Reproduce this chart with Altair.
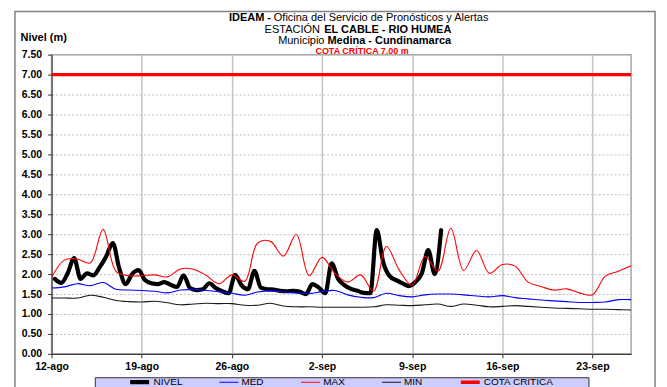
import altair as alt
import pandas as pd

# ---------------- data ----------------
series_names = ["NIVEL", "MED", "MAX", "MIN", "COTA CRITICA"]
series_colors = ["#000000", "#0000ff", "#ff0000", "#1a1a1a", "#ff0000"]
series_widths = [4.2, 1.1, 1.1, 1.1, 3.5]

x_tick_days = [(8, 12), (8, 19), (8, 26), (9, 2), (9, 9), (9, 16), (9, 23)]
y_ticks = [0.0, 0.5, 1.0, 1.5, 2.0, 2.5, 3.0, 3.5, 4.0, 4.5, 5.0, 5.5, 6.0, 6.5, 7.0, 7.5]

# NIVEL: readings at 06:00 and 18:00, from 12-ago 06:00
nivel = [1.88, 1.78, 2.02, 2.40, 1.88, 2.02, 1.97, 2.18, 2.45, 2.78,
         2.15, 1.75, 2.00, 2.10, 1.85, 1.77, 1.75, 1.80, 1.73, 1.68,
         1.97, 1.65, 1.60, 1.62, 1.77, 1.65, 1.57, 1.52, 1.98, 1.72,
         1.62, 2.08, 1.66, 1.62, 1.61, 1.58, 1.57, 1.58, 1.56, 1.50,
         1.75, 1.66, 1.52, 2.27, 1.88, 1.72, 1.63, 1.58, 1.53, 1.52,
         3.10, 2.30, 1.95, 1.85, 1.77, 1.70, 1.80, 2.02, 2.60, 2.00,
         3.10]

# daily statistics, 12-ago .. 26-sep
maximo = [1.92, 2.35, 2.38, 2.28, 3.12, 2.07, 1.96, 1.96, 1.98, 1.93,
          2.13, 2.12, 1.97, 1.76, 1.98, 1.82, 2.78, 2.82, 2.45, 3.00,
          1.96, 2.42, 2.02, 1.80, 1.98, 1.57, 2.69, 2.10, 1.72, 2.44,
          2.07, 3.15, 2.09, 2.59, 2.02, 2.24, 2.20, 1.80, 1.69, 1.60,
          1.63, 1.53, 1.48, 1.95, 2.07, 2.21]
med = [1.65, 1.68, 1.76, 1.71, 1.79, 1.62, 1.60, 1.59, 1.57, 1.53,
       1.60, 1.61, 1.59, 1.56, 1.52, 1.47, 1.55, 1.58, 1.55, 1.53,
       1.51, 1.56, 1.59, 1.48, 1.42, 1.41, 1.52, 1.46, 1.43, 1.48,
       1.50, 1.50, 1.48, 1.45, 1.43, 1.46, 1.41, 1.38, 1.35, 1.33,
       1.31, 1.29, 1.29, 1.30, 1.36, 1.36]
minimo = [1.40, 1.40, 1.40, 1.47, 1.42, 1.34, 1.31, 1.30, 1.32, 1.28,
          1.23, 1.25, 1.27, 1.26, 1.26, 1.22, 1.22, 1.27, 1.20, 1.18,
          1.18, 1.17, 1.17, 1.17, 1.17, 1.18, 1.23, 1.22, 1.21, 1.23,
          1.25, 1.19, 1.25, 1.22, 1.18, 1.19, 1.21, 1.19, 1.17, 1.15,
          1.14, 1.13, 1.12, 1.12, 1.11, 1.10]
cota_critica = 7.0


def iso(ts):
    return [t.strftime("%Y-%m-%dT%H:%M:%SZ") for t in ts]


nivel_times = pd.date_range("2024-08-12 06:00", periods=len(nivel), freq="12h")
stat_days = pd.date_range("2024-08-12", periods=len(med), freq="D")

df_nivel = pd.DataFrame({"fecha": iso(nivel_times), "valor": nivel, "serie": "NIVEL"})
df_stats = pd.concat([
    pd.DataFrame({"fecha": iso(stat_days), "valor": med, "serie": "MED"}),
    pd.DataFrame({"fecha": iso(stat_days), "valor": maximo, "serie": "MAX"}),
    pd.DataFrame({"fecha": iso(stat_days), "valor": minimo, "serie": "MIN"}),
    pd.DataFrame({"fecha": iso([stat_days[0], stat_days[-1]]),
                  "valor": [cota_critica, cota_critica], "serie": "COTA CRITICA"}),
], ignore_index=True)

FONT = "Liberation Sans"

# ---------------- encodings ----------------
x_enc = alt.X(
    "fecha:T",
    scale=alt.Scale(type="utc",
                    domain=[alt.DateTime(year=2024, month=8, date=12, utc=True),
                            alt.DateTime(year=2024, month=9, date=26, utc=True)]),
    axis=alt.Axis(
        values=[alt.DateTime(year=2024, month=m, date=d, utc=True) for m, d in x_tick_days],
        labelExpr="utcdate(datum.value) + '-' + (utcmonth(datum.value) == 7 ? 'ago' : 'sep')",
        title=None, labelFont=FONT, labelFontSize=10.5, labelFontWeight="bold",
        labelColor="#000000", labelPadding=4, tickSize=4, tickColor="#333333",
        labelFlush=False, labelOverlap=False,
        domainColor="#404040", domainWidth=1.2,
        grid=True, gridColor="#c4c4c4", gridWidth=1.5,
    ),
)
y_enc = alt.Y(
    "valor:Q",
    scale=alt.Scale(domain=[0, 7.5], nice=False, zero=False),
    axis=alt.Axis(
        values=y_ticks, format=".2f",
        title="Nivel (m)", titleAngle=0, titleX=-31.7, titleY=-14.5,
        titleAlign="left", titleBaseline="alphabetic", titleFont=FONT,
        titleFontSize=11, titleFontWeight="bold", titleColor="#000000",
        labelFont=FONT, labelFontSize=10.5, labelFontWeight="bold",
        labelColor="#000000", labelPadding=6, tickSize=4, tickColor="#333333",
        labelFlush=False, labelOverlap=False,
        domainColor="#404040", domainWidth=1.2,
        grid=True, gridColor="#bdbdbd", gridDash=[2, 2], gridWidth=1,
    ),
)

# trailing no-break spaces kept from trimming by a zero-width space
pad_spaces = "\u00a0" * 12 + "\u200b"
leg = alt.Legend(
    orient="none", legendX=43.3, legendY=323.4, direction="horizontal",
    title="\u00a0", titleOrient="left", titlePadding=32.0, titleFontSize=10,
    fillColor="#ccccff", strokeColor="#333333", padding=1,
    symbolType="stroke", symbolSize=361, clipHeight=8,
    labelFont=FONT, labelFontSize=10, labelColor="#000000", labelOffset=2,
    columnPadding=36, labelLimit=300,
    labelExpr=f"datum.label == 'COTA CRITICA' ? 'COTA CRITICA{pad_spaces}' : datum.label",
)
color_enc = alt.Color("serie:N", scale=alt.Scale(domain=series_names, range=series_colors), legend=leg)
width_enc = alt.StrokeWidth(
    "serie:N",
    scale=alt.Scale(type="ordinal", domain=series_names, range=series_widths),
    legend=leg,
)

nivel_layer = alt.Chart(df_nivel).mark_line(
    interpolate="monotone", strokeCap="round", strokeJoin="round"
).encode(x=x_enc, y=y_enc, color=color_enc, strokeWidth=width_enc)

stats_layer = alt.Chart(df_stats).mark_line(
    interpolate="catmull-rom", strokeJoin="round"
).encode(x=x_enc, y=y_enc, color=color_enc, strokeWidth=width_enc)

one = pd.DataFrame({"k": [0]})

frame = alt.Chart(one).mark_rect(fillOpacity=0, stroke="#808080", strokeWidth=1.5).encode(
    x=alt.value(-36.7), x2=alt.value(605), y=alt.value(-43.3), y2=alt.value(345)
)


def txt(text, x, y, size, weight, align, color="#000000"):
    return alt.Chart(one).mark_text(
        text=text, fontSize=size, fontWeight=weight, align=align,
        baseline="alphabetic", font=FONT, color=color
    ).encode(x=alt.value(x), y=alt.value(y))


titles = [
    txt("IDEAM -", 220.0, -33.6, 11, "bold", "right"),
    txt("Oficina del Servicio de Pronósticos y Alertas", 222.8, -33.6, 11, "normal", "left"),
    txt("ESTACIÓN", 269.0, -22.0, 11, "normal", "right"),
    txt("EL CABLE  - RIO HUMEA", 273.3, -22.0, 11, "bold", "left"),
    txt("Municipio", 273.6, -10.3, 11, "normal", "right"),
    txt("Medina - Cundinamarca", 276.6, -10.3, 11, "bold", "left"),
    txt("COTA CRÍTICA 7.00 m", 311.3, -1.0, 9, "bold", "center", "#ff0000"),
]

chart = alt.layer(frame, nivel_layer, stats_layer, *titles).properties(
    width=581, height=300,
    autosize=alt.AutoSizeParams(type="none"),
    padding={"left": 43.7, "top": 46.3, "right": 28, "bottom": 34},
    background="#ffffff",
).configure_view(stroke="#a6a6a6", strokeWidth=1.5)

chart.save("out.html", embed_options={"renderer": "svg", "actions": False})
